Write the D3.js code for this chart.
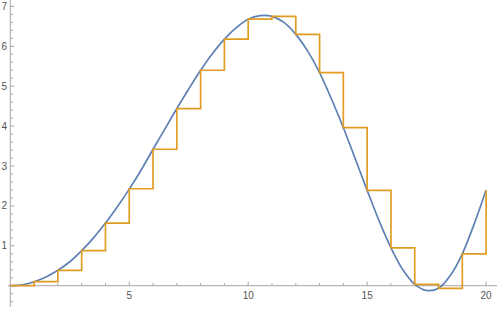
<html>
<head>
<script src="https://cdn.jsdelivr.net/npm/d3@7"></script>
<style>
  body { margin: 0; background: #fff; }
  text { font-family: "Liberation Sans", Arial, sans-serif; font-size: 10px; fill: #555; }
</style>
</head>
<body>
<svg width="498" height="309"></svg>
<script>
// smooth curve, every half unit
var curveX = [0, 0.5, 1, 1.5, 2, 2.5, 3, 3.5, 4, 4.5, 5, 5.5, 6, 6.5, 7, 7.5, 8, 8.5, 9, 9.5,
              10, 10.5, 11, 11.5, 12, 12.5, 13, 13.5, 14, 14.5, 15, 15.5, 16, 16.5, 17, 17.5, 18, 18.5, 19, 19.5, 20];
var curveY = [0, 0.02, 0.1, 0.22, 0.385, 0.6, 0.88, 1.2, 1.57, 1.98, 2.42, 2.9, 3.42, 3.93, 4.44, 4.93, 5.4, 5.82, 6.18, 6.47,
              6.68, 6.77, 6.75, 6.6, 6.3, 5.88, 5.34, 4.68, 3.96, 3.18, 2.39, 1.63, 0.95, 0.4, 0.035, -0.12, -0.065, 0.26, 0.8, 1.55, 2.4];

// step values held on [n, n+1)
var stepX = d3.range(0, 21);
var stepY = [0, 0.1, 0.385, 0.88, 1.57, 2.43, 3.42, 4.44, 5.4, 6.18, 6.68, 6.75, 6.3, 5.34, 3.96, 2.39, 0.95, 0.035, -0.065, 0.8, 2.4];

var xMajor = [5, 10, 15, 20];
var yMajor = [1, 2, 3, 4, 5, 6, 7];

var svg = d3.select("svg");
var x = d3.scaleLinear().domain([0, 20.5]).range([10.3, 498]);
var y = d3.scaleLinear().domain([0, 7]).range([285.7, 6.4]);

var axisColor = "#a6a6a6";

// axes lines
svg.append("line")
  .attr("x1", 8).attr("x2", 497)
  .attr("y1", y(0)).attr("y2", y(0))
  .attr("stroke", axisColor);
svg.append("line")
  .attr("x1", x(0)).attr("x2", x(0))
  .attr("y1", 0).attr("y2", 307)
  .attr("stroke", axisColor);

// x ticks, pointing up
var xTicks = d3.range(1, 21);
svg.selectAll(".xt").data(xTicks).enter().append("line")
  .attr("x1", function (d) { return x(d); })
  .attr("x2", function (d) { return x(d); })
  .attr("y1", y(0))
  .attr("y2", function (d) { return y(0) - (d % 5 == 0 ? 4 : 2.5); })
  .attr("stroke", axisColor);
svg.selectAll(".xl").data(xMajor).enter().append("text")
  .attr("x", function (d) { return x(d); })
  .attr("y", 299)
  .attr("text-anchor", "middle")
  .text(function (d) { return d; });

// y ticks, pointing right
var yTicks = d3.range(-2, 36).map(function (i) { return i / 5; });
svg.selectAll(".yt").data(yTicks).enter().append("line")
  .attr("x1", x(0))
  .attr("x2", function (d, i) { return x(0) + ((i - 2) % 5 == 0 ? 4 : 2.5); })
  .attr("y1", function (d) { return y(d); })
  .attr("y2", function (d) { return y(d); })
  .attr("stroke", axisColor);
svg.selectAll(".yl").data(yMajor).enter().append("text")
  .attr("x", 7)
  .attr("y", function (d) { return y(d) + 3.5; })
  .attr("text-anchor", "end")
  .text(function (d) { return d; });

// smooth curve
var smooth = d3.line()
  .x(function (d, i) { return x(curveX[i]); })
  .y(function (d) { return y(d); })
  .curve(d3.curveCatmullRom);
svg.append("path")
  .attr("d", smooth(curveY))
  .attr("fill", "none")
  .attr("stroke", "#5e81b5")
  .attr("stroke-width", 1.7);

// step function
var steps = d3.line()
  .x(function (d, i) { return x(stepX[i]); })
  .y(function (d) { return y(d); })
  .curve(d3.curveStepAfter);
svg.append("path")
  .attr("d", steps(stepY))
  .attr("fill", "none")
  .attr("stroke", "#e19c24")
  .attr("stroke-width", 1.7);
</script>
</body>
</html>
